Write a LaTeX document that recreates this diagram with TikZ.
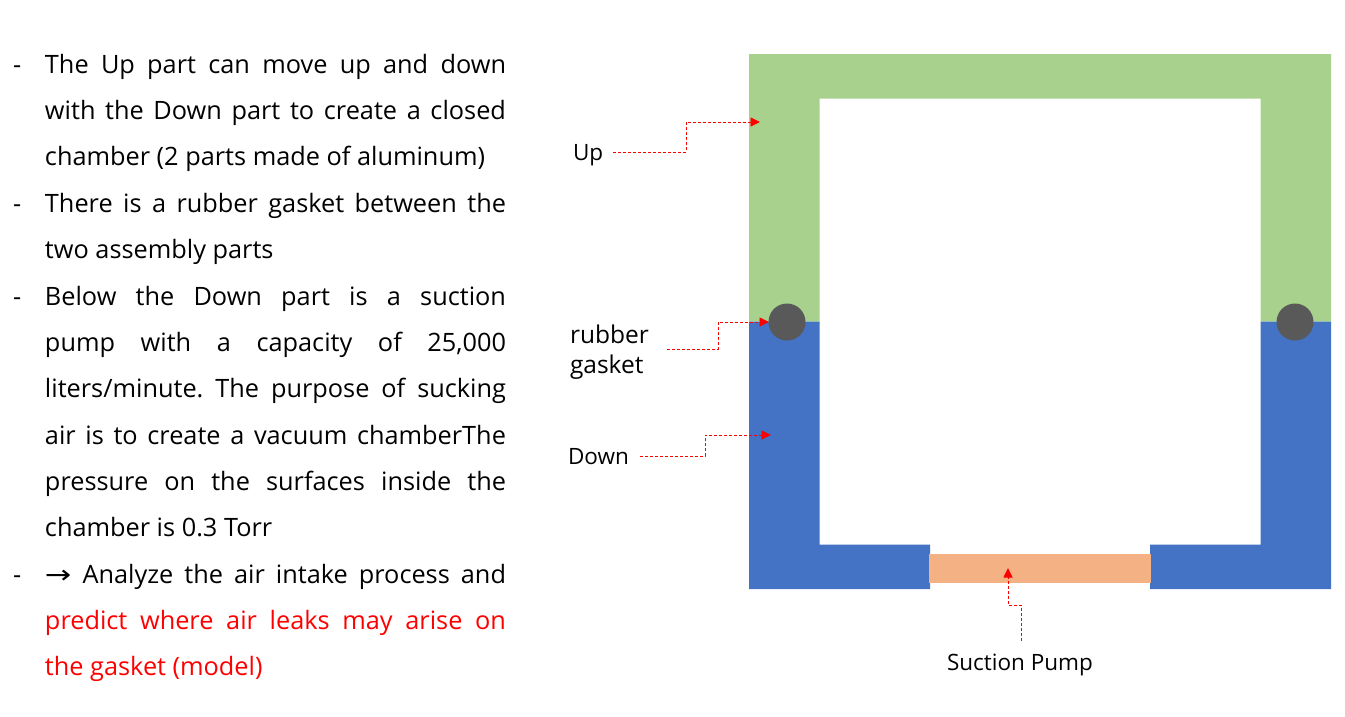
\documentclass[tikz,border=0pt]{standalone}
\usepackage{fontspec}
\usepackage{graphicx}
\setmainfont{Open Sans}
\newfontfamily\symbolfont{DejaVu Sans}
\usetikzlibrary{arrows.meta}
\definecolor{upgreen}{HTML}{A9D18E}
\definecolor{downblue}{HTML}{4472C4}
\definecolor{pumporange}{HTML}{F4B183}
\definecolor{gasketgray}{HTML}{595959}
\definecolor{leadred}{HTML}{FF0000}
\newcommand{\bodyline}[4]{%
  \node[bodytext,text=#4,anchor=base west] (#1) at (45,#2) {\makebox[461pt][s]{#3}};}
\newcommand{\lastline}[4]{%
  \node[bodytext,text=#4,anchor=base west] (#1) at (45,#2) {#3};}
\newcommand{\dashmark}[2]{%
  \node[bodytext,anchor=base west] (#1) at (13,#2) {-};}
\frenchspacing
\begin{document}
\begin{tikzpicture}[x=1pt,y=-1pt,
  bodytext/.style={inner sep=0pt,outer sep=0pt,font=\fontsize{25.3}{28}\selectfont\frenchspacing,text=black},
  labeltext/.style={inner sep=0pt,outer sep=0pt,font=\fontsize{22.5}{30}\selectfont,text=black},
  biglabel/.style={inner sep=0pt,outer sep=0pt,font=\fontsize{24.5}{30}\selectfont,text=black},
  part/.style={draw=none},
  leader/.style={draw=leadred,densely dashed,line width=0.9pt,-{Triangle[length=9.5pt,width=9pt,fill=leadred]}}
]
\useasboundingbox (0,0) rectangle (1345,716);
% parts
\fill[upgreen,part] (749,54) -- (1331,54) -- (1331,321.5) -- (1260.5,321.5) -- (1260.5,98.5) -- (819.5,98.5) -- (819.5,321.5) -- (749,321.5) -- cycle;
\fill[downblue,part] (749,321.5) -- (819.5,321.5) -- (819.5,544.5) -- (930,544.5) -- (930,589) -- (749,589) -- cycle;
\fill[downblue,part] (1331,321.5) -- (1260.5,321.5) -- (1260.5,544.5) -- (1150,544.5) -- (1150,589) -- (1331,589) -- cycle;
\node[part,fill=pumporange,minimum width=222pt,minimum height=29pt,inner sep=0pt,anchor=north west] (pump) at (929,554) {};
\node[circle,fill=gasketgray,minimum size=37pt,inner sep=0pt] (gasketL) at (787,322) {};
\node[circle,fill=gasketgray,minimum size=37pt,inner sep=0pt] (gasketR) at (1295,322) {};
% body text
\dashmark{d1}{73}
\bodyline{l1}{73}{The Up part can move up and down}{black}
\bodyline{l2}{119}{with the Down part to create a closed}{black}
\lastline{l3}{165}{chamber (2 parts made of aluminum)}{black}
\dashmark{d2}{212}
\bodyline{l4}{212}{There is a rubber gasket between the}{black}
\lastline{l5}{258}{two assembly parts}{black}
\dashmark{d3}{305}
\bodyline{l6}{305}{Below the Down part is a suction}{black}
\bodyline{l7}{351}{pump with a capacity of 25,000}{black}
\bodyline{l8}{397}{liters/minute. The purpose of sucking}{black}
\bodyline{l9}{444}{air is to create a vacuum chamberThe}{black}
\bodyline{l10}{490}{pressure on the surfaces inside the}{black}
\lastline{l11}{536}{chamber is 0.3 Torr}{black}
\dashmark{d4}{583}
\bodyline{l12}{583}{\scalebox{1.25}[1]{\symbolfont →} Analyze the air intake process and}{black}
\bodyline{l13}{629}{predict where air leaks may arise on}{leadred}
\lastline{l14}{675}{the gasket (model)}{leadred}
% labels
\node[labeltext,anchor=base west] (up) at (573,160) {Up};
\node[biglabel,anchor=base west] (rubber) at (570,343) {rubber};
\node[biglabel,anchor=base west] (gasket) at (570,373) {gasket};
\node[labeltext,anchor=base west] (down) at (568,464) {Down};
\node[labeltext,anchor=base west] (suction) at (947,670) {Suction Pump};
% connector free ends
\coordinate (upS) at (613,152);
\coordinate (upE) at (760,122);
\coordinate (rubS) at (667,349);
\coordinate (rubE) at (769,322);
\coordinate (downS) at (640,456);
\coordinate (downE) at (771,435);
\coordinate (sucS) at (1021,641);
\coordinate (sucE) at (1008,568);
\draw[leader] (upS) -- (686,152) -- (686,122) -- (upE);
\draw[leader] (rubS) -- (718,349) -- (718,322) -- (rubE);
\draw[leader] (downS) -- (705,456) -- (705,435) -- (downE);
\draw[leader] (sucS) -- (1021,605) -- (1008,605) -- (sucE);
\end{tikzpicture}
\end{document}
